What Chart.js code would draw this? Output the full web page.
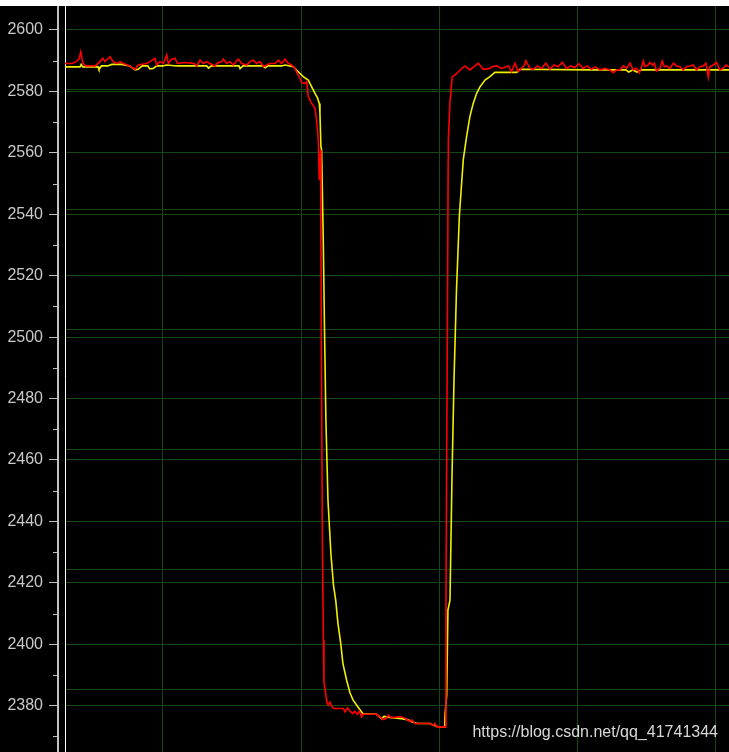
<!DOCTYPE html>
<html><head><meta charset="utf-8">
<script src="https://cdn.jsdelivr.net/npm/chart.js@4.4.0/dist/chart.umd.min.js"></script>
<style>
html,body{margin:0;padding:0;background:#fff;}
#wrap{position:absolute;left:0;top:6px;width:729px;height:746px;background:#000;}
#mark{position:absolute;right:11px;top:723px;font:16px "Liberation Sans",Arial,sans-serif;color:#d8d8d8;white-space:nowrap;}
</style></head><body>
<div id="wrap"><canvas id="c"></canvas></div>
<div id="mark">https://blog.csdn.net/qq_41741344</div>
<script>
// ---- data (time units, signal values) ----
const redT = [29.1,34,37,39.3,40.5,42,44,51,54.4,56.4,58,61.7,64,66.5,69,71.3,76,79.8,82,88.2,90.6,94.2,95.4,97.8,100.3,102.7,103.9,106.3,108.7,110.4,116,122.5,124.4,126.8,129.2,131.6,134,137.7,138.9,142.5,143.7,146.1,148.5,150.9,153.3,154.5,157,160.6,163,165.4,167.8,170.2,172.6,177.5,181.1,183.5,185.9,188.3,190.7,193.2,
195.5,197.2,199.1,200.4,202.7,204,205.1,207.6,210,210.7,211.6,212.4,213.1,214.1,214.3,214.8,215.4,216.1,216.5,217.6,218.7,219.6,220.8,222,223.7,
230.5,231.7,233.6,235.3,237.3,238.9,240.6,242,243.8,244.9,254.6,257,259.4,261.4,263,264.8,268,271.5,273.9,276.4,278.8,280,282.4,293.2,295.6,296.8,298,304.5,
304.8,305.9,306.4,306.5,307.7,309.3,311.3,313.7,318.5,322.2,328.1,331.8,336.6,337.9,341.5,345.1,349.9,352.3,354.7,357.1,361.5,362.6,365.6,368,
371,374,377,380,383,386,389,392,395,398,401,404,407,410,413,416.2,419.8,423.4,425.9,428.3,430.7,433.1,435.5,437.9,440.3,442.7,444.7,446.4,447.6,448.8,
451.2,452.4,454.3,455.5,457.2,459.6,461.3,462.8,464.4,466.9,469.3,471.7,474.1,476.5,478.9,481.3,483.7,486.1,488.6,491,492.9,494.6,495.8,498.2,500.6,503,505.4,507.4,509.6];
const redV = [2589.1,2589.1,2589.6,2590.6,2592.9,2589.2,2588.3,2588.3,2589.7,2590.8,2589.7,2591.3,2589.7,2589.1,2589.7,2589.1,2588.3,2587.2,2588.6,2589.1,2589.7,2590.8,2588.6,2589.7,2589.1,2591.9,2589.1,2590.5,2590.8,2589.1,2589.4,2589.1,2588.3,2590.2,2589.1,2589.7,2589.1,2588.3,2589.1,2589.7,2590.5,2589.1,2589.7,2588.6,2590.0,2590.5,2589.1,2588.6,2589.7,2590.2,2589.1,2589.7,2588.1,2589.1,2589.1,2590.2,2589.1,2590.5,2589.1,2588.6,
2587.5,2585.9,2584.3,2582.8,2582.6,2583.2,2578.3,2576.1,2574.5,2572.3,2568.5,2564.2,2551.1,2560.9,2531.6,2479.5,2430.6,2401.3,2387.7,2384.5,2380.9,2380.2,2381.2,2379.9,2379.1,
2379.1,2378.0,2379.3,2378.2,2377.5,2378.2,2377.2,2378.2,2376.4,2377.2,2377.2,2376.4,2375.5,2375.8,2376.9,2376.2,2376.2,2376.5,2376.2,2375.5,2374.8,2375.4,2374.2,2374.2,2373.6,2374.2,2373.1,2373.1,
2414.4,2512.1,2557.7,2564.2,2576.6,2584.8,2585.3,2586.4,2588.3,2587.0,2589.2,2587.2,2587.5,2588.05,2588.3,2587.5,2588.3,2586.4,2589.2,2586.4,2588.5,2590.0,2587.5,2587.2,
2588.3,2587.5,2589.2,2587.2,2588.6,2588.0,2589.5,2587.5,2588.3,2587.8,2589.0,2587.5,2588.3,2587.2,2588.0,2587.0,2587.5,2587.0,2586.1,2587.0,2587.0,2588.3,2587.5,2589.2,2587.0,2587.5,2586.1,2588.05,2589.9,2588.05,
2588.6,2589.4,2588.6,2589.2,2586.7,2587.5,2589.9,2588.05,2588.3,2587.5,2589.2,2588.3,2588.05,2587.0,2588.05,2588.3,2588.6,2587.0,2588.05,2588.3,2589.2,2584.6,2588.05,2588.6,2589.4,2587.0,2587.5,2588.6,2588.0];

const yelT = [29.1,40,40.8,42,53,53.7,55.5,60,63,70,76,79.8,82,85,89,90.5,93,95.4,100,102.7,110,131.6,133,135,155,155.8,158,172,174,176,186,188.3,194.3,
197.9,201.5,205.1,207.6,210,211.9,213.1,213.6,214.3,214.8,215.6,216,216.9,217.9,219.4,221.6,223.4,225,226.6,228.6,230.2,232.9,235.3,237.5,241.1,244.7,
254.6,258.2,260,264,272.7,277.5,280,284,293,296.8,300,303.9,304.2,305.3,306.2,307.7,309.1,310.6,312.4,314.5,317.3,319.7,322.1,324.5,327,329.4,333,336.6,340.2,355.9,358.3,
410,435,437,440,443,446,509.6];
const yelV = [2588.0,2588.0,2588.8,2588.0,2588.0,2587.2,2588.3,2588.3,2588.8,2588.8,2588.3,2587.0,2587.2,2588.3,2588.3,2587.3,2587.5,2588.3,2588.3,2588.6,2588.3,2588.3,2587.6,2588.3,2588.3,2587.4,2588.3,2588.3,2587.7,2588.3,2588.3,2588.6,2588.05,
2586.4,2584.8,2583.7,2581.5,2579.4,2577.8,2576.1,2572.9,2562.0,2560.9,2541.4,2531.6,2502.3,2473.0,2446.9,2429.0,2419.2,2414.4,2406.9,2400.4,2393.8,2388.3,2384.2,2381.9,2379.6,2377.4,
2377.2,2375.8,2376.5,2376.2,2375.8,2375.4,2374.8,2374.2,2374.2,2373.5,2373.1,2373.1,2377.5,2383.4,2411.1,2414.4,2453.4,2486.0,2515.3,2539.7,2557.7,2565.3,2571.8,2576.1,2579.4,2581.5,2583.7,2584.8,2586.2,2586.2,2587.2,
2587.0,2587.0,2586.3,2587.0,2586.3,2587.0,2587.0];

const yTickValues = [2370,2380,2390,2400,2410,2420,2430,2440,2450,2460,2470,2480,2490,2500,2510,2520,2530,2540,2550,2560,2570,2580,2590,2600];
const divisionLines = [2385.4,2424.5,2463.5,2502.6,2541.7,2580.7];
const timeGrid = [100,200,300,400,500];

const GRID = '#174717';
const AXIS = '#c0c0c0';
const Y_MIN = 2364.93, Y_MAX = 2607.81;

const minorTicks = {
  id: 'minorTicks',
  afterDraw(chart) {
    const s = chart.scales.y, ctx = chart.ctx;
    ctx.save();
    ctx.strokeStyle = AXIS; ctx.lineWidth = 1;
    s.ticks.forEach(t => {
      if (t.value % 20 !== 0) {
        const y = Math.round(s.getPixelForValue(t.value)) + 0.5;
        ctx.beginPath(); ctx.moveTo(s.right - 5, y); ctx.lineTo(s.right - 1, y); ctx.stroke();
      }
    });
    ctx.restore();
  }
};

const noPad = s => { s.paddingTop = 0; s.paddingBottom = 0; s.paddingLeft = 0; s.paddingRight = 0; };

new Chart(document.getElementById('c'), {
  type: 'line',
  data: {
    datasets: [
      { label: 'raw', data: redT.map((t, i) => ({ x: t, y: redV[i] })), borderColor: '#ff0000', borderWidth: 1.6, pointRadius: 0, tension: 0, fill: false },
      { label: 'filtered', data: yelT.map((t, i) => ({ x: t, y: yelV[i] })), borderColor: '#f0f000', borderWidth: 1.6, pointRadius: 0, tension: 0, fill: false }
    ]
  },
  options: {
    responsive: true, maintainAspectRatio: false, animation: false,
    layout: { padding: 0 },
    plugins: { legend: { display: false }, tooltip: { enabled: false } },
    scales: {
      x: {
        type: 'linear', min: 29.1, max: 509.6,
        afterBuildTicks: s => { s.ticks = timeGrid.map(v => ({ value: v })); },
        ticks: { display: false },
        grid: { color: GRID, lineWidth: 1, drawTicks: false },
        border: { display: false },
        afterFit: s => { s.height = 0; noPad(s); }
      },
      y: {
        position: 'left', weight: 1, min: Y_MIN, max: Y_MAX,
        afterBuildTicks: s => { s.ticks = yTickValues.map(v => ({ value: v })); },
        ticks: {
          autoSkip: false, color: '#c8c8c8', padding: 6,
          font: { family: '"Liberation Sans", Arial, sans-serif', size: 16 },
          callback: v => (v % 20 === 0 ? String(v) : '')
        },
        grid: {
          lineWidth: 1, tickLength: 9,
          color: c => (c.tick && c.tick.value % 20 === 0 ? GRID : 'rgba(0,0,0,0)'),
          tickColor: c => (c.tick && c.tick.value % 20 === 0 ? AXIS : 'rgba(0,0,0,0)')
        },
        border: { color: AXIS, width: 2 },
        afterFit: s => { s.width = 58; noPad(s); }
      },
      yEdge: {
        position: 'left', weight: 0, min: Y_MIN, max: Y_MAX,
        ticks: { display: false },
        grid: { drawOnChartArea: false, drawTicks: false },
        border: { color: '#ffffff', width: 1, dash: [1, 1] },
        afterFit: s => { s.width = 7; noPad(s); }
      },
      yDiv: {
        position: 'right', min: Y_MIN, max: Y_MAX,
        afterBuildTicks: s => { s.ticks = divisionLines.map(v => ({ value: v })); },
        ticks: { display: false },
        grid: { color: GRID, lineWidth: 1, drawTicks: false },
        border: { display: false },
        afterFit: s => { s.width = 0; noPad(s); }
      }
    }
  },
  plugins: [minorTicks]
});
</script>
</body></html>
